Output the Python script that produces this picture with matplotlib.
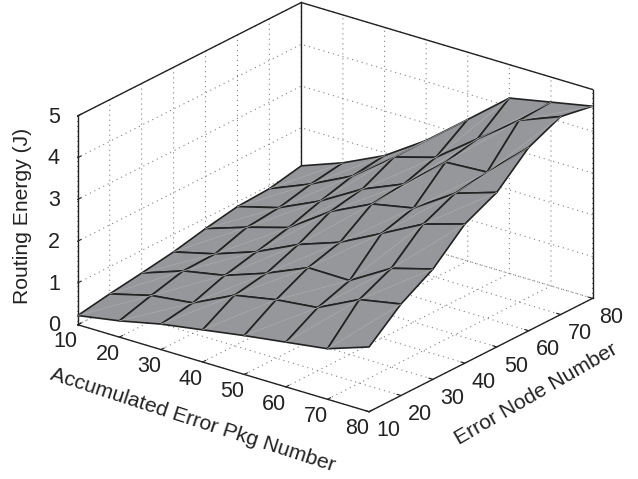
import numpy as np
import matplotlib
matplotlib.use("Agg")
import matplotlib.pyplot as plt

plt.rcParams['font.family'] = ['Liberation Sans', 'DejaVu Sans']
plt.rcParams['grid.linestyle'] = (0, (1, 3.5))
plt.rcParams['grid.color'] = '#808080'
plt.rcParams['grid.linewidth'] = 0.8

pkg_number = [10, 20, 30, 40, 50, 60, 70, 80]
node_number = [10, 20, 30, 40, 50, 60, 70, 80]
energy_ticks = [0, 1, 2, 3, 4, 5]

# one row per error node number
energy_n10 = [0.22, 0.39, 0.61, 0.77, 0.93, 1.07, 1.21, 1.55]
energy_n20 = [0.35, 0.61, 0.73, 1.21, 1.40, 1.51, 2.00, 2.19]
energy_n30 = [0.46, 0.81, 1.00, 1.35, 1.78, 1.77, 2.36, 2.64]
energy_n40 = [0.58, 0.83, 1.18, 1.65, 2.00, 2.51, 3.03, 3.33]
energy_n50 = [0.75, 1.08, 1.37, 2.05, 2.53, 2.73, 3.38, 3.70]
energy_n60 = [0.89, 1.16, 1.62, 2.20, 2.62, 3.44, 3.50, 4.39]
energy_n70 = [0.93, 1.34, 1.83, 2.58, 2.87, 3.61, 4.35, 4.74]
energy_n80 = [1.09, 1.46, 1.93, 2.59, 3.39, 4.20, 4.40, 4.60]

Z = np.array([energy_n10, energy_n20, energy_n30, energy_n40,
              energy_n50, energy_n60, energy_n70, energy_n80])
X, Y = np.meshgrid(pkg_number, node_number)

fig = plt.figure(figsize=(6.38, 4.79), dpi=100)
ax = fig.add_axes([0.0132, -0.0486, 1.0, 1.2], projection='3d', computed_zorder=False)
ax.set_proj_type('ortho')
ax.view_init(elev=22.9, azim=-52.5)
ax.set_box_aspect((367.7, 367.7, 227), zoom=0.957)
ax.set_xlim(10, 80, view_margin=0)
ax.set_ylim(10, 80, view_margin=0)
ax.set_zlim(0, 5, view_margin=0)

x0, x1 = pkg_number[0], pkg_number[-1]
y0, y1 = node_number[0], node_number[-1]
z0, z1 = energy_ticks[0], energy_ticks[-1]

# box edges the 3d axis does not draw by itself
box = dict(color='#222222', linewidth=1.0, zorder=1)
ax.plot([x0, x0], [y0, y1], [z1, z1], **box)
ax.plot([x0, x1], [y1, y1], [z1, z1], **box)
ax.plot([x0, x0], [y1, y1], [z0, z1], **box)
ax.plot([x1, x1], [y1, y1], [z0, z1], **box)

ax.plot_surface(X, Y, Z, rstride=1, cstride=1, color='#95979a', shade=False,
                edgecolor='#222222', linewidth=1.2, antialiased=True, zorder=2)

# faint triangle seams across each quad
for j in range(len(node_number) - 1):
    for i in range(len(pkg_number) - 1):
        ax.plot([X[j, i], X[j + 1, i + 1]], [Y[j, i], Y[j + 1, i + 1]],
                [Z[j, i], Z[j + 1, i + 1]], color='#aaabad', linewidth=0.5, zorder=3)

ax.set_xticks(pkg_number)
ax.set_yticks(node_number)
ax.set_zticks(energy_ticks)

for axis in (ax.xaxis, ax.yaxis, ax.zaxis):
    axis.set_pane_color((1, 1, 1, 0))
    axis.pane.set_edgecolor('none')
    axis.line.set_color('#222222')
    axis.line.set_linewidth(1.0)
    axis._axinfo['tick']['inward_factor'] = 0.0
    axis._axinfo['tick']['outward_factor'] = 0.17
    axis.set_tick_params(labelsize=15.5, colors='#222222', width=1.0)

ax.zaxis.set_ticks_position('lower')

for t in ax.xaxis.get_ticklabels():
    t.set_va('center')
for t in ax.yaxis.get_ticklabels():
    t.set_ha('center')
    t.set_va('center')
for t in ax.zaxis.get_ticklabels():
    t.set_va('center')
ax.zaxis.set_tick_params(pad=2)
ax.yaxis.set_tick_params(pad=6)

# axis3d resets its own label placement on draw, so these sit on the figure
label_style = dict(fontsize=15.2, color='#222222', ha='center', va='center', rotation_mode='anchor')
fig.text(192.5 / 638, 1 - 420.5 / 479, 'Accumulated Error Pkg Number', rotation=-18, **label_style)
fig.text(536 / 638, 1 - 394 / 479, 'Error Node Number', rotation=30, **label_style)
fig.text(23 / 638, 1 - 216 / 479, 'Routing Energy (J)', rotation=90, **label_style)

fig.savefig('out.png', dpi=100)
